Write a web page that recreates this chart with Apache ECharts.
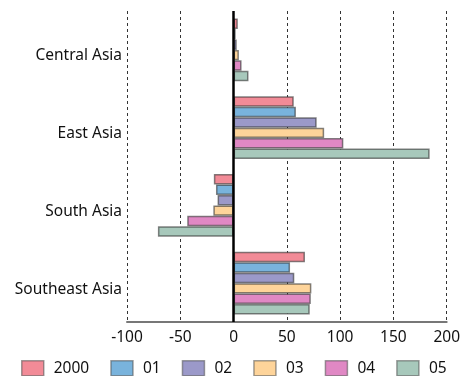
<!DOCTYPE html>
<html><head><meta charset="utf-8">
<script src="https://cdn.jsdelivr.net/npm/echarts@6/dist/echarts.min.js"></script>
<style>html,body{margin:0;padding:0;background:#fff}#c{width:463px;height:376px}</style>
</head><body><div id="c"></div>
<script>
const categories = ['Central Asia', 'East Asia', 'South Asia', 'Southeast Asia'];
const seriesNames = ['2000', '01', '02', '03', '04', '05'];
const v2000 = [4, 56.5, -18.5, 67];
const v01 = [2, 58.5, -16.5, 53];
const v02 = [3, 78, -15, 57];
const v03 = [5, 85, -19, 73];
const v04 = [7.5, 103, -43.5, 72.5];
const v05 = [14, 184, -71, 71.5];
const xTicks = [-100, -50, 0, 50, 100, 150, 200];
const colors = ['#f28b97', '#79b3dc', '#9b99c9', '#fed49a', '#e088c4', '#a7c8bb'];
const values = [v2000, v01, v02, v03, v04, v05];
const font = '"Noto Sans", sans-serif';

const chart = echarts.init(document.getElementById('c'));
const series = values.map((d, i) => ({
  name: seriesNames[i], type: 'bar', data: d,
  barGap: '0%', barCategoryGap: '19%',
  itemStyle: { color: colors[i], borderColor: 'rgba(50,50,50,0.6)', borderWidth: 1.5 },
  emphasis: { disabled: true }
}));
series[0].markLine = {
  silent: true, symbol: 'none', label: { show: false },
  lineStyle: { color: '#000', width: 2.5, type: 'solid' },
  data: [{ xAxis: 0 }], z: 10
};
chart.setOption({
  animation: false,
  color: colors,
  textStyle: { fontFamily: font },
  grid: { left: 127, right: 16, top: 11, bottom: 54, containLabel: false },
  xAxis: {
    type: 'value', min: xTicks[0], max: xTicks[xTicks.length - 1], interval: 50,
    axisLine: { show: true, onZero: false, lineStyle: { color: '#777', width: 2 } },
    axisTick: { show: false },
    axisLabel: { color: '#111', fontSize: 15.5, fontFamily: font, margin: 8 },
    splitLine: { show: true, lineStyle: { color: '#333', width: 1, type: [3, 3] } }
  },
  yAxis: {
    type: 'category', data: categories, inverse: true,
    axisLine: { show: false, onZero: false },
    axisTick: { show: false },
    axisLabel: {
      margin: 5, formatter: '{a|{value}}',
      rich: { a: { color: '#111', fontSize: 15.5, fontFamily: font, padding: [12, 0, 0, 0] } }
    },
    splitLine: { show: false }
  },
  legend: {
    top: 360, left: 21, padding: 0, itemWidth: 22, itemHeight: 15, itemGap: 21,
    textStyle: { color: '#111', fontSize: 15.5, fontFamily: font, padding: [0, 0, 0, 5] },
    data: seriesNames.map(n => ({ name: n, icon: 'rect' })),
    itemStyle: { borderColor: 'rgba(80,80,80,0.55)', borderWidth: 1.5 }
  },
  series: series
});
</script></body></html>
